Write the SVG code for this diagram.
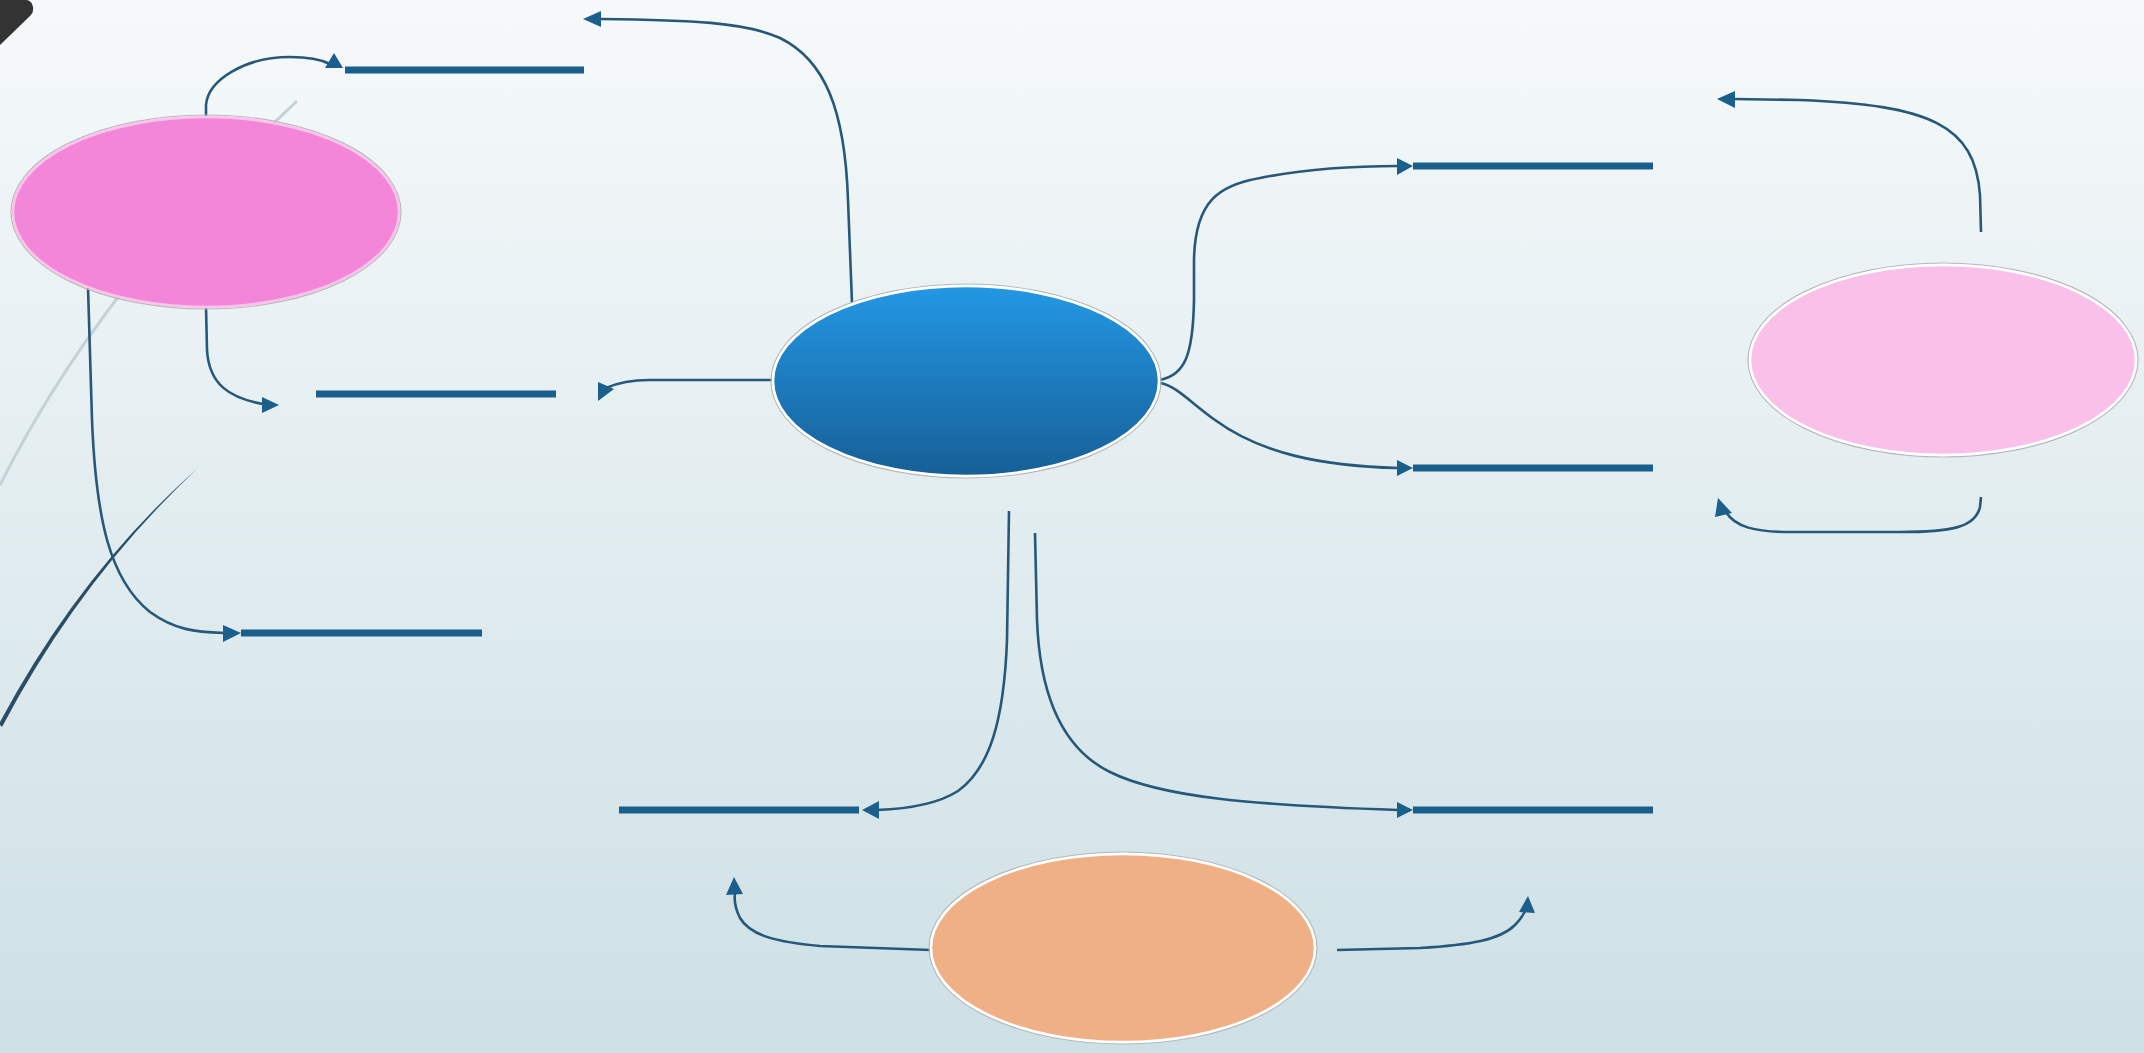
<svg xmlns="http://www.w3.org/2000/svg" width="2144" height="1053" viewBox="0 0 2144 1053">
  <defs>
    <linearGradient id="bg" x1="0" y1="0" x2="0" y2="1">
      <stop offset="0" stop-color="#f6f9fa"/>
      <stop offset="1" stop-color="#cde0e6"/>
    </linearGradient>
    <linearGradient id="blueFill" x1="0" y1="0" x2="0" y2="1">
      <stop offset="0" stop-color="#2398e4"/>
      <stop offset="1" stop-color="#165f96"/>
    </linearGradient>
  </defs>
  <style>
    .conn { fill: none; stroke: #26587a; stroke-width: 2.6; stroke-linecap: butt; }
    .head { fill: #1b5f8d; }
    .bar { stroke: #1a5f8c; stroke-width: 7; }
    .halo { fill: none; stroke: #b9b9b9; stroke-width: 1.2; }
    .ring { stroke: #ffffff; stroke-width: 2.5; }
  </style>

  <rect width="2144" height="1053" fill="url(#bg)"/>

  <!-- decorative background curves -->
  <g id="decor">
    <path d="M0,485 Q100,285 297,101" fill="none" stroke="#c4d2d7" stroke-width="3"/>
    <path d="M-1,724 Q79,573 199,467 Q81,577 2,727 Z" fill="#2a4e66"/>
    <path d="M0,0 H26 Q30,0 32,4 L33,7 Q34,12 30,16 L0,45 Z" fill="#333333"/>
  </g>

  <!-- bars -->
  <g id="bars">
    <line class="bar" x1="345" y1="70" x2="584" y2="70"/>
    <line class="bar" x1="316" y1="394" x2="556" y2="394"/>
    <line class="bar" x1="241" y1="633" x2="482" y2="633"/>
    <line class="bar" x1="1413" y1="166" x2="1653" y2="166"/>
    <line class="bar" x1="1413" y1="468" x2="1653" y2="468"/>
    <line class="bar" x1="619" y1="810" x2="859" y2="810"/>
    <line class="bar" x1="1413" y1="810" x2="1653" y2="810"/>
  </g>

  <!-- connectors -->
  <g id="connectors">
    <path class="conn" d="M206,117 L206,105 C208,80 245,57 290,57 C310,57 322,60 330,64"/>
    <polygon class="head" points="325,68 334,53 343,68"/>

    <path class="conn" d="M206,307 L207,350 C209,385 230,398 263,404"/>
    <polygon class="head" points="262,397 279,405 262,413"/>

    <path class="conn" d="M775,380 L649,380 C630,380 615,384 606,388"/>
    <polygon class="head" points="598,382 598,401 614,389"/>

    <path class="conn" d="M852,303 L848,200 C845,110 825,60 780,38 C745,22 690,20 600,19"/>
    <polygon class="head" points="583,19 601,11 601,27"/>

    <path class="conn" d="M88,287 L92,420 C96,520 110,580 150,612 C175,630 195,632 224,633"/>
    <polygon class="head" points="223,625 241,633 223,642"/>

    <path class="conn" d="M1160,380 C1185,375 1193,355 1194,300 L1194,260 C1195,200 1220,185 1260,178 C1300,170 1350,166 1398,166"/>
    <polygon class="head" points="1397,158 1413,166 1397,175"/>

    <path class="conn" d="M1160,383 C1175,385 1190,402 1215,420 C1260,453 1320,466 1398,468"/>
    <polygon class="head" points="1397,460 1413,468 1397,476"/>

    <path class="conn" d="M1981,232 L1980,195 C1975,125 1930,105 1800,100 L1734,99"/>
    <polygon class="head" points="1717,99 1735,91 1735,108"/>

    <path class="conn" d="M1981,497 L1980,507 C1975,528 1950,532 1900,532 L1790,532 C1755,532 1735,527 1726,512"/>
    <polygon class="head" points="1718,498 1715,517 1732,513"/>

    <path class="conn" d="M1009,511 L1007,640 C1004,720 990,768 958,791 C936,805 905,809 877,810"/>
    <polygon class="head" points="862,810 879,801 879,819"/>

    <path class="conn" d="M1035,533 L1037,620 C1040,700 1065,750 1110,772 C1160,797 1250,805 1398,810"/>
    <polygon class="head" points="1397,802 1413,810 1397,818"/>

    <path class="conn" d="M931,950 L820,946 C775,942 750,935 740,918 C735,908 734,900 735,893"/>
    <polygon class="head" points="734,877 726,895 743,894"/>

    <path class="conn" d="M1337,950 L1420,948 C1470,945 1500,940 1515,925 C1522,918 1526,910 1527,905"/>
    <polygon class="head" points="1528,896 1519,912 1535,913"/>
  </g>

  <!-- nodes -->
  <g id="node-left">
    <ellipse class="halo" cx="206" cy="212" rx="195" ry="97"/>
    <ellipse cx="206" cy="212" rx="193" ry="95" fill="#f386d9" stroke="#fbc3ec" stroke-width="2.5"/>
  </g>
  <g id="node-center">
    <ellipse class="halo" cx="966" cy="381" rx="195" ry="97"/>
    <ellipse class="ring" cx="966" cy="381" rx="193" ry="95" fill="url(#blueFill)"/>
  </g>
  <g id="node-right">
    <ellipse class="halo" cx="1943" cy="360" rx="195" ry="97"/>
    <ellipse class="ring" cx="1943" cy="360" rx="193" ry="95" fill="#f9c0ea"/>
  </g>
  <g id="node-bottom">
    <ellipse class="halo" cx="1123" cy="948" rx="194" ry="96"/>
    <ellipse class="ring" cx="1123" cy="948" rx="192" ry="94" fill="#f0b086"/>
  </g>
</svg>
